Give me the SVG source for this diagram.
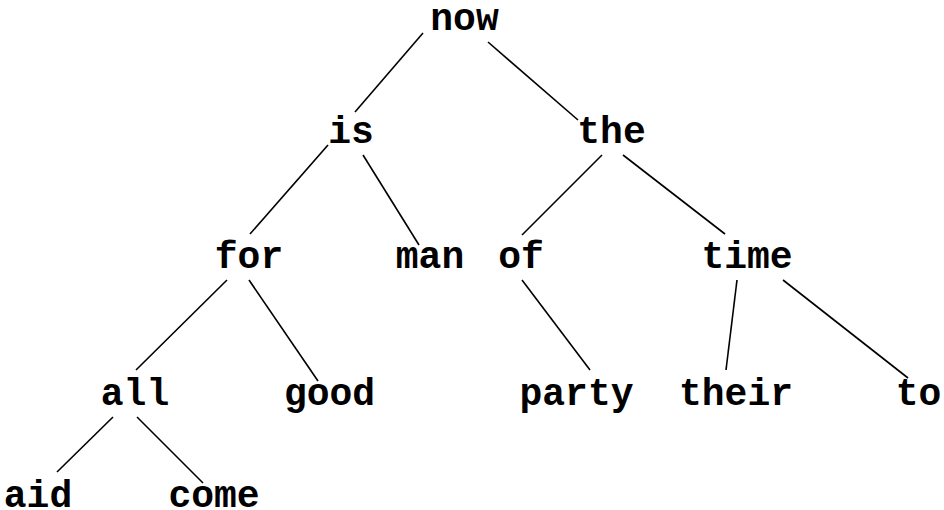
<svg xmlns="http://www.w3.org/2000/svg" width="944" height="510" viewBox="0 0 944 510">
<style>
text{font-family:"Liberation Mono","Courier New",monospace;font-weight:bold;font-size:38px;fill:#000;text-anchor:middle}
line{stroke:#000;stroke-width:1.6}
</style>
<rect width="944" height="510" fill="#fff"/>
<g id="connectors">
<line x1="423" y1="33" x2="355" y2="112"/>
<line x1="488" y1="42" x2="578" y2="120"/>
<line x1="328" y1="145" x2="250" y2="234"/>
<line x1="363" y1="155" x2="419" y2="245"/>
<line x1="602" y1="155" x2="522" y2="235"/>
<line x1="623" y1="155" x2="725" y2="234"/>
<line x1="227" y1="280" x2="136" y2="370"/>
<line x1="249" y1="280" x2="318" y2="381"/>
<line x1="522" y1="280" x2="590" y2="370"/>
<line x1="737" y1="280" x2="726" y2="370"/>
<line x1="783" y1="280" x2="908" y2="378"/>
<line x1="113" y1="417" x2="57" y2="472"/>
<line x1="137" y1="417" x2="203" y2="483"/>
</g>
<g id="n-now"><text x="464.5" y="30">now</text></g>
<g id="n-is"><text x="351" y="143">is</text></g>
<g id="n-the"><text x="611.5" y="143">the</text></g>
<g id="n-for"><text x="249" y="268">for</text></g>
<g id="n-man"><text x="430" y="268">man</text></g>
<g id="n-of"><text x="521" y="268">of</text></g>
<g id="n-time"><text x="747" y="268">time</text></g>
<g id="n-all"><text x="135" y="405">all</text></g>
<g id="n-good"><text x="329.5" y="405">good</text></g>
<g id="n-party"><text x="576.5" y="405">party</text></g>
<g id="n-their"><text x="736" y="405">their</text></g>
<g id="n-to"><text x="918.5" y="405">to</text></g>
<g id="n-aid"><text x="38" y="507">aid</text></g>
<g id="n-come"><text x="214" y="507">come</text></g>
</svg>
